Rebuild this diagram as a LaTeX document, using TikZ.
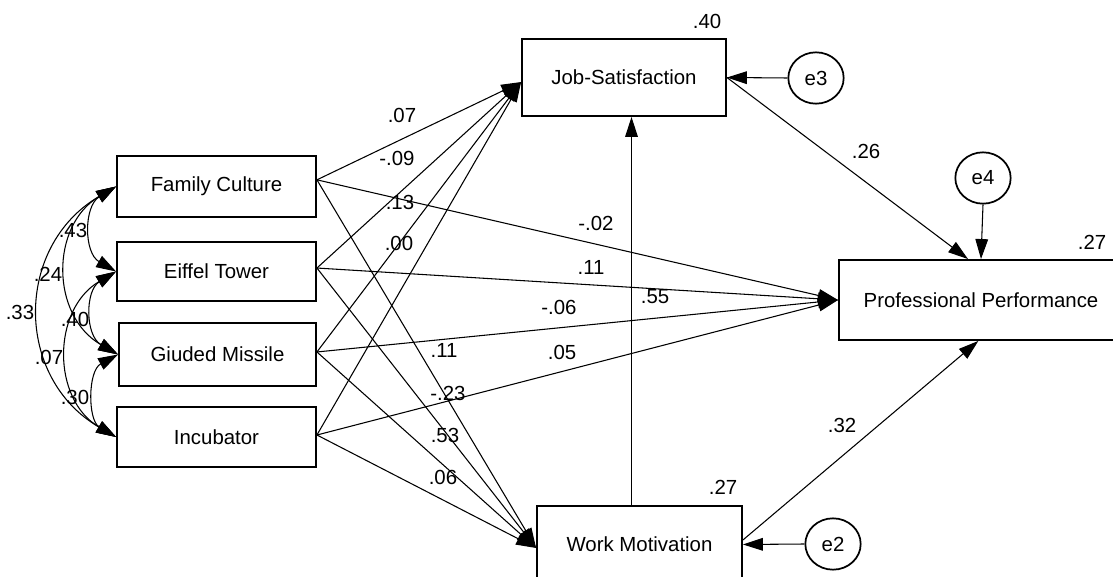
\documentclass[tikz,border=0pt]{standalone}
\usepackage{fontspec}
\setmainfont{Liberation Sans}
\usetikzlibrary{arrows.meta,shapes.geometric}
\begin{document}
\begin{tikzpicture}[x=0.75pt,y=-0.75pt,
  font=\fontsize{15.3}{18}\selectfont,
  var/.style={draw,line width=1.4pt,rectangle,inner sep=0pt,align=center},
  err/.style={draw,line width=1.3pt,ellipse,inner sep=0pt,minimum width=41.5pt,minimum height=38.5pt},
  pth/.style={line width=0.8pt,-{Triangle[length=15pt,width=9.5pt]}},
  cov/.style={line width=0.8pt,{Triangle[length=15pt,width=9.5pt]}-{Triangle[length=15pt,width=9.5pt]}},
  num/.style={inner sep=0pt}]
\useasboundingbox (0,0) rectangle (1113,577);
% observed variables
\node[var,minimum width=149.25pt,minimum height=45.75pt] (FC) at (216.5,186.5) {Family Culture};
\node[var,minimum width=149.25pt,minimum height=44.25pt] (ET) at (216.5,271.5) {Eiffel Tower};
\node[var,minimum width=147.75pt,minimum height=47.25pt] (GM) at (217.5,354.5) {Giuded Missile};
\node[var,minimum width=149.25pt,minimum height=45pt] (IB) at (216.5,437) {Incubator};
\node[var,minimum width=153pt,minimum height=57.75pt] (JS) at (624,77.5) {Job-Satisfaction};
\node[var,minimum width=153.75pt,minimum height=57.75pt] (WM) at (639.5,544.5) {Work Motivation};
\node[var,minimum width=213pt,minimum height=60pt] (PP) at (981,300) {Professional Performance};
% errors
\node[err] (e3) at (816,78) {e3};
\node[err] (e4) at (983,178) {e4};
\node[err] (e2) at (833,544) {e2};
% covariances
\draw[cov] (FC.west) .. controls (83.7,206.2) and (83.7,252.8) .. (ET.west);
\draw[cov] (FC.west) .. controls (50.3,225.5) and (50.3,315.5) .. (GM.west);
\draw[cov] (FC.west) .. controls (14.3,246.3) and (14.3,377.7) .. (IB.west);
\draw[cov] (ET.west) .. controls (85,290.5) and (85,335.5) .. (GM.west);
\draw[cov] (ET.west) .. controls (51.7,309.7) and (51.7,399.3) .. (IB.west);
\draw[cov] (GM.west) .. controls (87.7,370.9) and (87.7,420.1) .. (IB.west);
% paths to Job-Satisfaction
\draw[pth] ([yshift=5pt]FC.east) -- ([yshift=-3.4pt]JS.west);
\draw[pth] ([yshift=2.6pt]ET.east) -- ([yshift=-3.4pt]JS.west);
\draw[pth] ([yshift=1.9pt]GM.east) -- ([yshift=-3.4pt]JS.west);
\draw[pth] ([yshift=1.5pt]IB.east) -- ([yshift=-3.4pt]JS.west);
% paths to Work Motivation
\draw[pth] ([yshift=5pt]FC.east) -- ([yshift=-2.6pt]WM.west);
\draw[pth] ([yshift=2.6pt]ET.east) -- ([yshift=-2.6pt]WM.west);
\draw[pth] ([yshift=1.9pt]GM.east) -- ([yshift=-2.6pt]WM.west);
\draw[pth] ([yshift=1.5pt]IB.east) -- ([yshift=-2.6pt]WM.west);
% paths to Professional Performance
\draw[pth] ([yshift=5pt]FC.east) -- (PP.west);
\draw[pth] ([yshift=2.6pt]ET.east) -- (PP.west);
\draw[pth] ([yshift=1.9pt]GM.east) -- (PP.west);
\draw[pth] ([yshift=1.5pt]IB.east) -- (PP.west);
% mediator paths
\draw[pth] ([xshift=-6pt]WM.north) -- ([xshift=5.625pt]JS.south);
\draw[pth] (JS.east) -- ([xshift=-9.75pt]PP.north);
\draw[pth] ([yshift=3.4pt]WM.east) -- ([xshift=-2pt]PP.south);
% error paths
\draw[pth] (e3.west) -- (JS.east);
\draw[pth] (e4.south) -- (PP.north);
\draw[pth] (e2.west) -- (WM.east);
% R-squared
\node[num] (r1) at (707,21) {.40};
\node[num] (r2) at (723,487) {.27};
\node[num] (r3) at (1092,242) {.27};
% path coefficients
\node[num] (c1) at (402,115) {.07};
\node[num] (c2) at (397,158) {-.09};
\node[num] (c3) at (400,202) {.13};
\node[num] (c4) at (399,243) {.00};
\node[num] (c5) at (596,223) {-.02};
\node[num] (c6) at (591,267) {.11};
\node[num] (c7) at (655,297) {.55};
\node[num] (c8) at (559,307) {-.06};
\node[num] (c9) at (444,350) {.11};
\node[num] (c10) at (562,352) {.05};
\node[num] (c11) at (448,393) {-.23};
\node[num] (c12) at (445,435) {.53};
\node[num] (c13) at (443,477) {.06};
\node[num] (c14) at (866,151) {.26};
\node[num] (c15) at (842,425) {.32};
% covariances
\node[num] (k1) at (73,230) {.43};
\node[num] (k2) at (48,274) {.24};
\node[num] (k3) at (20,312) {.33};
\node[num] (k4) at (75,319) {.40};
\node[num] (k5) at (49,357) {.07};
\node[num] (k6) at (75,397) {.30};
\end{tikzpicture}
\end{document}
